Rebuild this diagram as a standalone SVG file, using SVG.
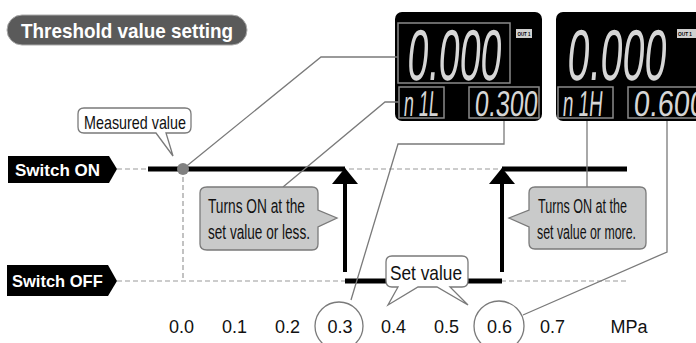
<svg xmlns="http://www.w3.org/2000/svg" width="696" height="343" viewBox="0 0 696 343">
<defs>
<style>
.lead{fill:none;stroke:#7a7a7a;stroke-width:1.3}
.dash{fill:none;stroke:#9a9a9a;stroke-width:1.2;stroke-dasharray:5,3}
.thick{fill:none;stroke:#000;stroke-width:5}
.shaft{fill:none;stroke:#000;stroke-width:4}
.head{fill:#000}
.lbl{font-family:"Liberation Sans",Arial,sans-serif;font-weight:bold;fill:#fff}
.cond{font-family:"Liberation Sans",Arial,sans-serif;fill:#111}
.tick{font-family:"Liberation Sans",Arial,sans-serif;font-size:18px;fill:#111;text-anchor:middle}
.box{fill:#fff;stroke:#7a7a7a;stroke-width:1.3}
.gbox{fill:#c9caca;stroke:#7a7a7a;stroke-width:1.3}
.lcd{fill:#000}
.frame{fill:none;stroke:#8a8a8a;stroke-width:1.5}
.seg{font-family:"Liberation Sans",Arial,sans-serif;fill:#d6d6d6}
.out{fill:#d0d0d0}
.outt{font-family:"Liberation Sans",Arial,sans-serif;font-weight:bold;font-size:6px;fill:#000}
.circ{fill:none;stroke:#7a7a7a;stroke-width:1.3}
</style>
</defs>
<rect width="696" height="343" fill="#fff"/>

<g id="title">
<rect x="7" y="15" width="240" height="30" rx="15" fill="#5a5a5a" stroke="#aaa" stroke-width="1"/>
<text class="lbl" x="21" y="38" font-size="21" textLength="212" lengthAdjust="spacingAndGlyphs">Threshold value setting</text>
</g>

<g id="display-left">
<rect class="lcd" x="395" y="12" width="147" height="109" rx="7"/>
<rect class="frame" x="398" y="23" width="112" height="60"/>
<rect class="frame" x="399" y="87" width="45" height="31"/>
<rect class="frame" x="469" y="87" width="70" height="31"/>
<rect class="out" x="516" y="29" width="16" height="9"/>
<text class="outt" x="517.5" y="36" textLength="13" lengthAdjust="spacingAndGlyphs">OUT 1</text>
<text class="seg" transform="translate(406,80) skewX(-5)" font-size="72" textLength="94" lengthAdjust="spacingAndGlyphs">0.000</text>
<text class="seg" transform="translate(403,116) skewX(-5)" font-size="36" textLength="35" lengthAdjust="spacingAndGlyphs">n  1L</text>
<text class="seg" transform="translate(474,116) skewX(-5)" font-size="36" textLength="63" lengthAdjust="spacingAndGlyphs">0.300</text>
</g>

<g id="display-right">
<rect class="lcd" x="556" y="12" width="150" height="109" rx="7"/>
<rect class="frame" x="558" y="87" width="55" height="31"/>
<rect class="frame" x="628" y="87" width="80" height="31"/>
<rect class="out" x="677" y="29" width="19" height="9"/>
<text class="outt" x="678" y="36" textLength="14" lengthAdjust="spacingAndGlyphs">OUT 1</text>
<text class="seg" transform="translate(566,80) skewX(-5)" font-size="72" textLength="99" lengthAdjust="spacingAndGlyphs">0.000</text>
<text class="seg" transform="translate(562,116) skewX(-5)" font-size="36" textLength="40" lengthAdjust="spacingAndGlyphs">n  1H</text>
<text class="seg" transform="translate(633,116) skewX(-5)" font-size="36" textLength="72" lengthAdjust="spacingAndGlyphs">0.600</text>
</g>

<g id="connectors">
<line class="dash" x1="117" y1="169" x2="627" y2="169"/>
<line class="dash" x1="117" y1="281" x2="627" y2="281"/>
<line class="dash" x1="183" y1="169" x2="183" y2="281"/>
<line class="thick" x1="148" y1="169" x2="345" y2="169"/>
<line class="thick" x1="502" y1="169" x2="627" y2="169"/>
<line class="thick" x1="345" y1="281" x2="502" y2="281"/>
<line class="shaft" x1="345" y1="182" x2="345" y2="272"/>
<polygon class="head" points="345,168 332,184 358,184"/>
<line class="shaft" x1="502" y1="182" x2="502" y2="272"/>
<polygon class="head" points="502,168 489,184 515,184"/>
<polyline class="lead" points="183,169 321,57 398,57"/>
<polyline class="lead" points="283,187 385,102 399,102"/>
<polyline class="lead" points="351,300 398,144 504,144 504,121"/>
<polyline class="lead" points="523,315 667,252 667,121"/>
<line class="lead" x1="587" y1="187" x2="587" y2="121"/>
<circle cx="183" cy="169" r="6" fill="#808080"/>
</g>

<g id="switch-on">
<polygon points="8,156 109,156 117,169 109,183 8,183" fill="#000"/>
<text class="lbl" x="15" y="176" font-size="17">Switch ON</text>
</g>

<g id="switch-off">
<polygon points="7,265 108,265 117,281 108,296 7,296" fill="#000"/>
<text class="lbl" x="12" y="287" font-size="16.5">Switch OFF</text>
</g>

<g id="measured-value">
<path class="box" d="M84,108 H185 Q191,108 191,114 V127 Q191,133 185,133 H166 L173,156 L156,133 H84 Q78,133 78,127 V114 Q78,108 84,108 Z"/>
<text class="cond" x="84" y="129" font-size="18.5" textLength="102" lengthAdjust="spacingAndGlyphs">Measured value</text>
</g>

<g id="callout-less">
<path class="gbox" d="M207,187 H312 Q318,187 318,193 V210 L337,218 L318,227 V244 Q318,250 312,250 H207 Q200,250 200,244 V193 Q200,187 207,187 Z"/>
<text class="cond" x="208" y="213" font-size="20.5" textLength="97" lengthAdjust="spacingAndGlyphs">Turns ON at the</text>
<text class="cond" x="208" y="239" font-size="20.5" textLength="102" lengthAdjust="spacingAndGlyphs">set value or less.</text>
</g>

<g id="callout-more">
<path class="gbox" d="M535,187 H640 Q646,187 646,193 V243 Q646,249 640,249 H535 Q529,249 529,243 V227 L509,218 L529,210 V193 Q529,187 535,187 Z"/>
<text class="cond" x="538" y="213" font-size="20.5" textLength="89" lengthAdjust="spacingAndGlyphs">Turns ON at the</text>
<text class="cond" x="537" y="239" font-size="20.5" textLength="99" lengthAdjust="spacingAndGlyphs">set value or more.</text>
</g>

<g id="set-value">
<path class="box" d="M392,256 H462 Q468,256 468,262 V281 Q468,287 462,287 H450 L468,305 L437,287 H418 L388,305 L398,287 H392 Q386,287 386,281 V262 Q386,256 392,256 Z"/>
<text class="cond" x="390" y="280" font-size="21" textLength="72" lengthAdjust="spacingAndGlyphs">Set value</text>
</g>

<g id="axis">
<text class="tick" x="181.5" y="333">0.0</text>
<text class="tick" x="234.5" y="333">0.1</text>
<text class="tick" x="287.5" y="333">0.2</text>
<text class="tick" x="340" y="333">0.3</text>
<text class="tick" x="393.5" y="333">0.4</text>
<text class="tick" x="446.5" y="333">0.5</text>
<text class="tick" x="499.5" y="333">0.6</text>
<text class="tick" x="552.5" y="333">0.7</text>
<text class="tick" x="629" y="333">MPa</text>
<circle class="circ" cx="339" cy="326" r="24"/>
<circle class="circ" cx="499" cy="326" r="25"/>
</g>
</svg>
